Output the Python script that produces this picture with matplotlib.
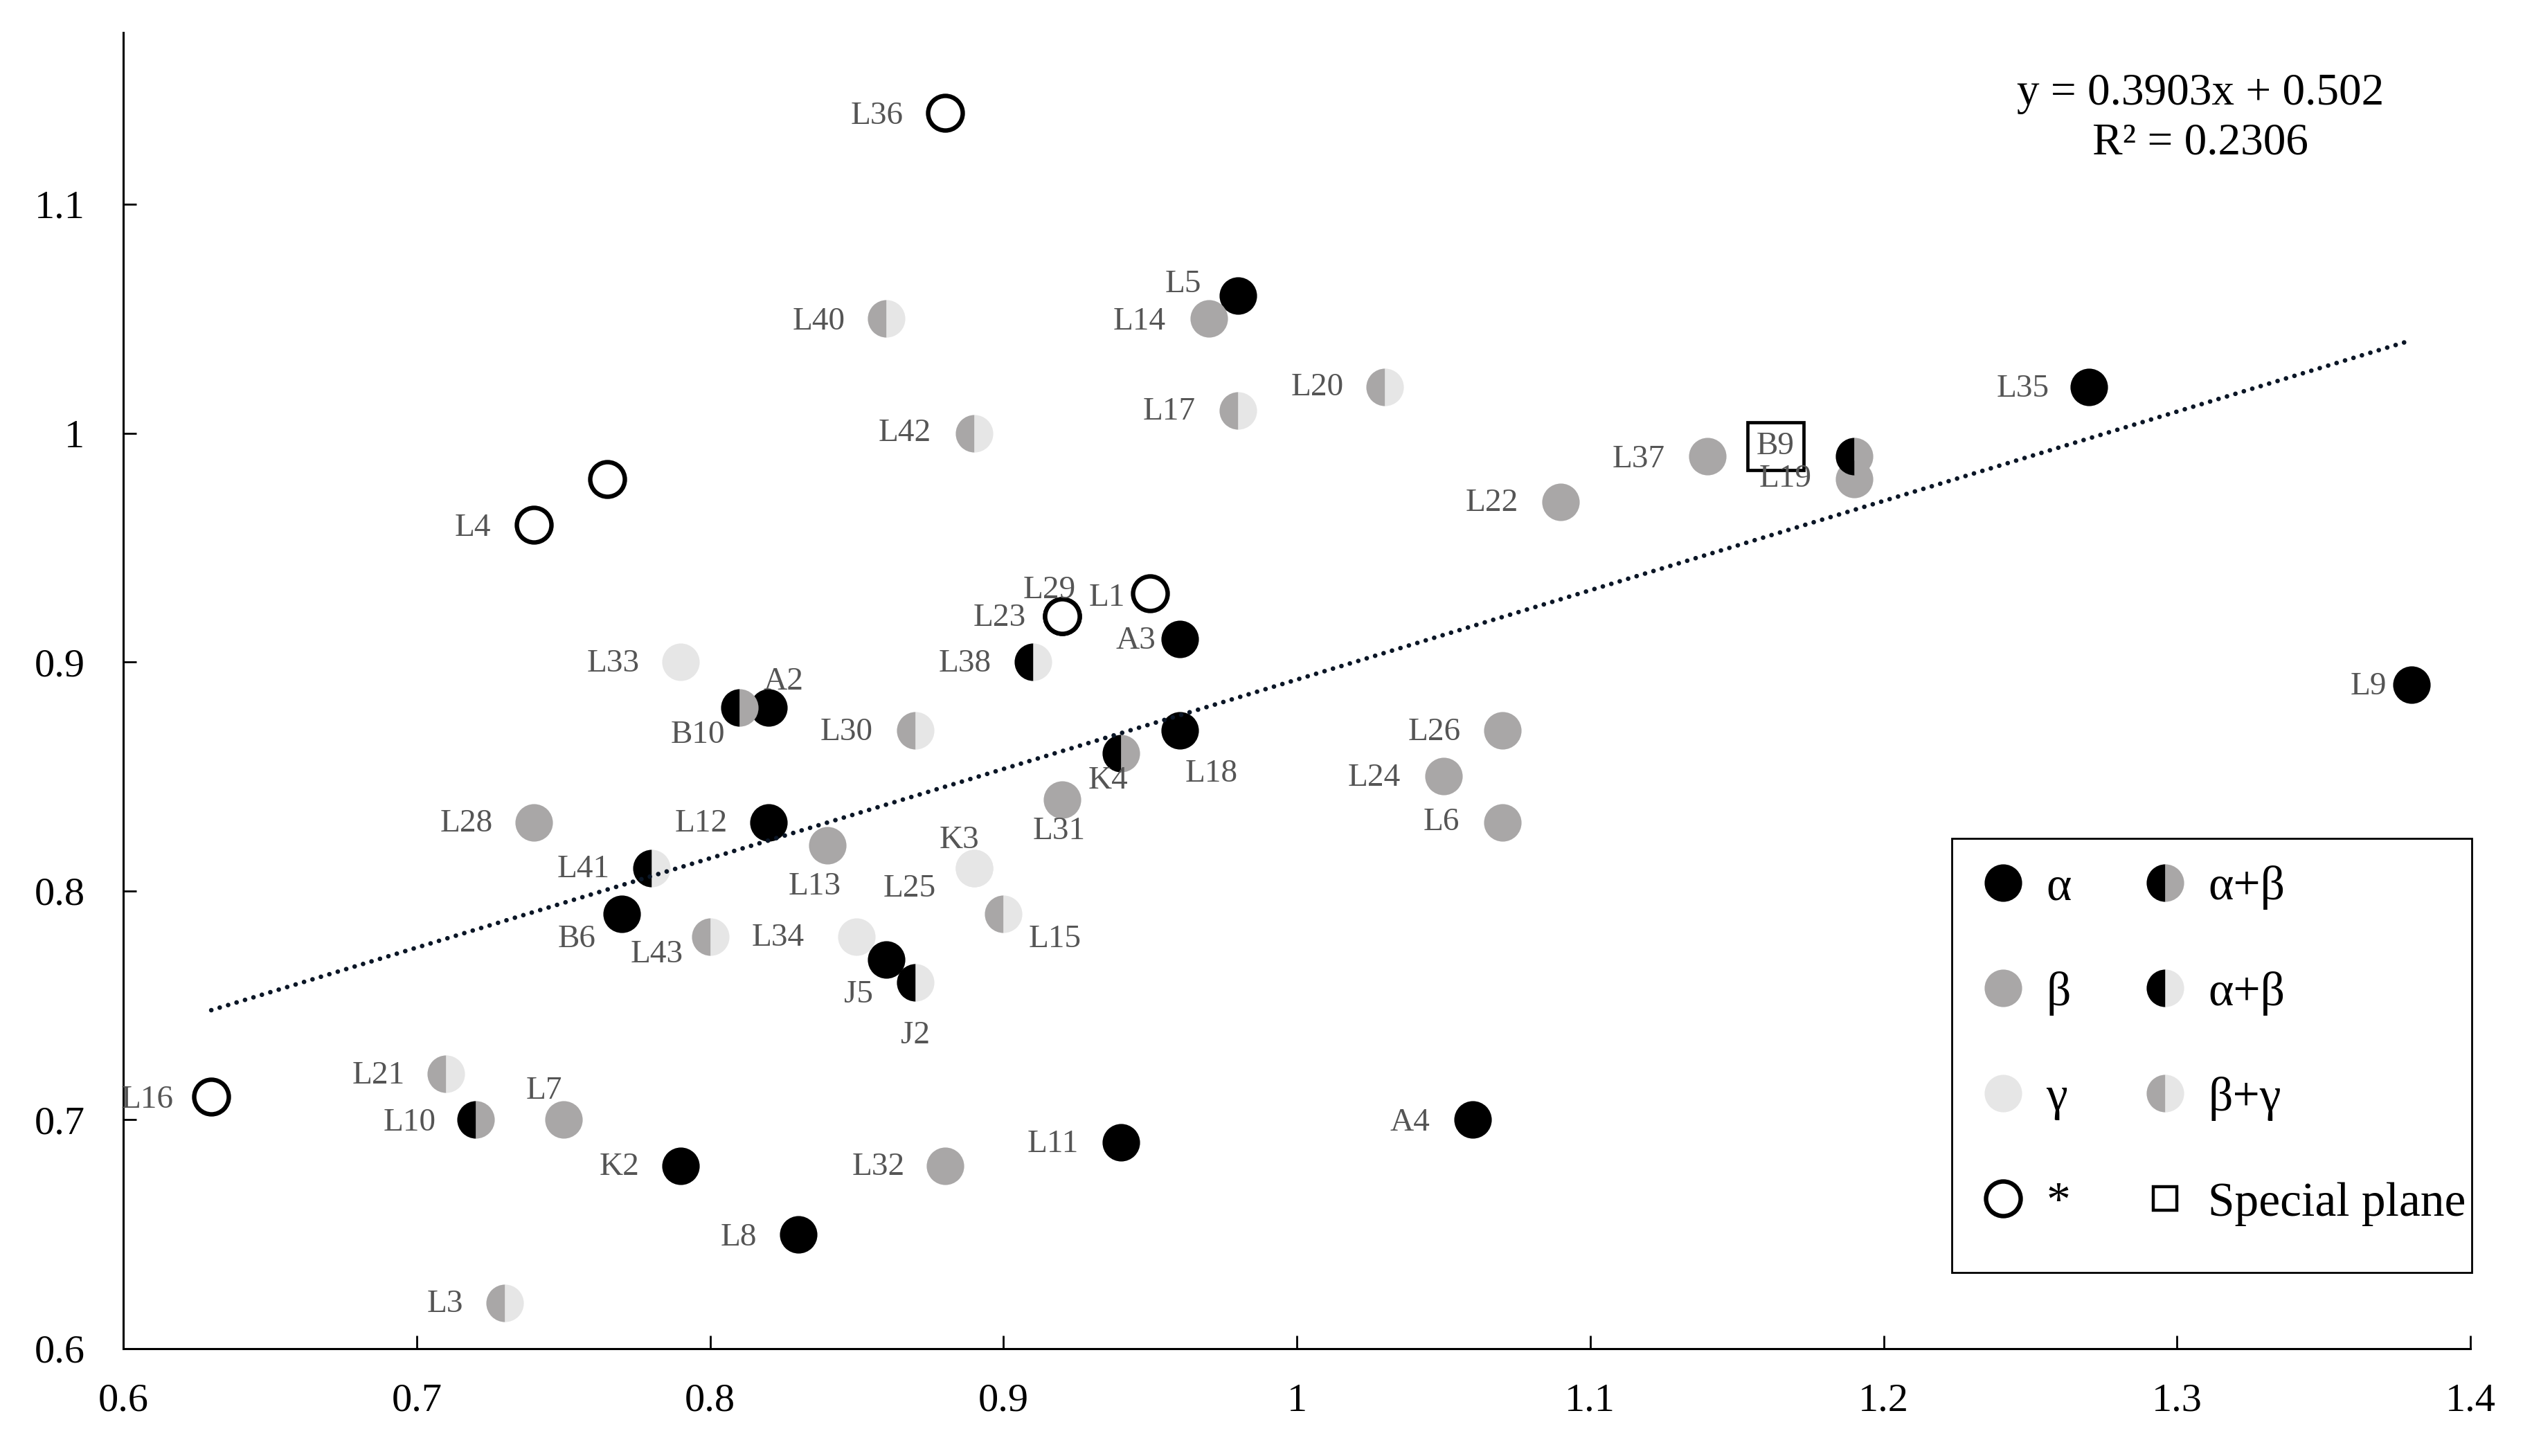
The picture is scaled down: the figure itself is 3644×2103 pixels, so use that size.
import matplotlib
matplotlib.use('Agg')
import matplotlib.pyplot as plt
from matplotlib.lines import Line2D
from matplotlib.patches import Rectangle
from matplotlib.ticker import FuncFormatter
import numpy as np

plt.rcParams['font.family'] = ['Liberation Serif', 'DejaVu Serif']

# data
names = ['L36', 'L5', 'L14', 'L40', 'L20', 'L17', 'L42', 'L35', 'L37', 'B9',
         'L19', 'L22', '', 'L4', 'L29', 'L23', 'L1', 'A3', 'L33', 'L38',
         'A2', 'B10', 'L30', 'L18', 'K4', 'L26', 'L24', 'L6', 'L9', 'L31',
         'L28', 'L12', 'L13', 'K3', 'L25', 'L41', 'L15', 'B6', 'L43', 'L34',
         'J5', 'J2', 'L21', 'L16', 'L10', 'L7', 'A4', 'L11', 'K2', 'L32',
         'L8', 'L3']
x_vals = [0.88, 0.98, 0.97, 0.86, 1.03, 0.98, 0.89, 1.27, 1.14, 1.19,
          1.19, 1.09, 0.765, 0.74, 0.92, 0.92, 0.95, 0.96, 0.79, 0.91,
          0.82, 0.81, 0.87, 0.96, 0.94, 1.07, 1.05, 1.07, 1.38, 0.92,
          0.74, 0.82, 0.84, 0.89, 0.89, 0.78, 0.90, 0.77, 0.80, 0.85,
          0.86, 0.87, 0.71, 0.63, 0.72, 0.75, 1.06, 0.94, 0.79, 0.88,
          0.83, 0.73]
y_vals = [1.14, 1.06, 1.05, 1.05, 1.02, 1.01, 1.00, 1.02, 0.99, 0.99,
          0.98, 0.97, 0.98, 0.96, 0.92, 0.92, 0.93, 0.91, 0.90, 0.90,
          0.88, 0.88, 0.87, 0.87, 0.86, 0.87, 0.85, 0.83, 0.89, 0.84,
          0.83, 0.83, 0.82, 0.81, 0.81, 0.81, 0.79, 0.79, 0.78, 0.78,
          0.77, 0.76, 0.72, 0.71, 0.70, 0.70, 0.70, 0.69, 0.68, 0.68,
          0.65, 0.62]
phases = ['*', 'a', 'b', 'bg', 'bg', 'bg', 'bg', 'a', 'b', 'ab',
          'b', 'b', '*', '*', '*', '*', '*', 'a', 'g', 'ag',
          'a', 'ab', 'bg', 'a', 'ab', 'b', 'b', 'b', 'a', 'b',
          'b', 'a', 'b', 'g', 'g', 'ag', 'bg', 'a', 'bg', 'g',
          'a', 'ag', 'bg', '*', 'ab', 'b', 'a', 'a', 'a', 'b',
          'a', 'bg']

slope, intercept, r2 = 0.3903, 0.502, 0.2306
special_plane = ['B9']

BLACK = 'black'
GRAY = '#a9a7a7'
LIGHT = '#e6e6e6'

# (fillstyle, face, alt face, label) for each phase
styles = {
    'a': ('full', BLACK, None, 'α'),
    'b': ('full', GRAY, None, 'β'),
    'g': ('full', LIGHT, None, 'γ'),
    '*': ('full', 'white', None, '*'),
    'ab': ('left', BLACK, GRAY, 'α+β'),
    'ag': ('left', BLACK, LIGHT, 'α+β'),
    'bg': ('left', GRAY, LIGHT, 'β+γ'),
}

# label offsets (reference pixels at 1568 width, dy down)
label_offsets = {
    'L36': (-42, 2), 'L5': (-34, -7), 'L14': (-43, 2), 'L40': (-42, 2),
    'L20': (-42, 0), 'L17': (-43, 1), 'L42': (-43, 0), 'L35': (-41, 1),
    'L37': (-43, 2), 'B9': (-49, -6), 'L19': (-43, 0), 'L22': (-43, 1),
    'L4': (-38, 2), 'L29': (-8, -16), 'L23': (-39, 1), 'L1': (-27, 3),
    'A3': (-27, 1), 'L33': (-42, 1), 'L38': (-42, 1), 'A2': (9, -16),
    'B10': (-26, 17), 'L30': (-43, 1), 'L18': (20, 27), 'K4': (-8, 17),
    'L26': (-42, 1), 'L24': (-43, 1), 'L6': (-38, 0), 'L9': (-27, 1),
    'L31': (-2, 20), 'L28': (-42, 1), 'L12': (-42, 1), 'L13': (-8, 26),
    'K3': (-9, -17), 'L25': (-40, 13), 'L41': (-42, 1), 'L15': (32, 16),
    'B6': (-28, 16), 'L43': (-33, 11), 'L34': (-49, 1), 'J5': (-17, 22),
    'J2': (0, 33), 'L21': (-42, 1), 'L16': (-40, 2), 'L10': (-41, 2),
    'L7': (-12, -18), 'A4': (-39, 2), 'L11': (-42, 1), 'K2': (-38, 1),
    'L32': (-41, 1), 'L8': (-37, 2), 'L3': (-37, 1),
}
PX = 0.8366  # one reference pixel in points

MS = 19.5


def marker_kw(phase):
    fs, c1, c2, _ = styles[phase]
    kw = dict(marker='o', markersize=MS, fillstyle=fs, markerfacecolor=c1)
    if c2 is not None:
        kw['markerfacecoloralt'] = c2
    if phase == '*':
        kw.update(markeredgecolor='black', markeredgewidth=2.3, markersize=MS - 1.5)
    else:
        kw.update(markeredgecolor='none', markeredgewidth=0)
    return kw


fig = plt.figure(figsize=(18.22, 10.515), dpi=200)
ax = fig.add_axes([178 / 3644, 1 - 1948 / 2103, 3390 / 3644, 1901 / 2103])

x_arr = np.array(x_vals)
y_arr = np.array(y_vals)
ph_arr = np.array(phases)
for ph in styles:
    m = ph_arr == ph
    ax.plot(x_arr[m], y_arr[m], linestyle='none', zorder=2, **marker_kw(ph))

# linear trend
xt = np.array([x_arr.min(), x_arr.max()])
ax.plot(xt, slope * xt + intercept, color='#0b1626', lw=2.4,
        linestyle=(0, (0.01, 1.9)), dash_capstyle='round', zorder=3)

for name, x, y in zip(names, x_vals, y_vals):
    if not name:
        continue
    dx, dy = label_offsets.get(name, (-42, 1))
    kw = {}
    if name in special_plane:
        kw['bbox'] = dict(boxstyle='square,pad=0.28', fc='white', ec='black', lw=1.7)
    ax.annotate(name, (x, y), xytext=(dx * PX, -dy * PX), textcoords='offset points',
                ha='center', va='center', fontsize=17, color='#555555', zorder=4, **kw)

ax.text(0.885, 0.9537, f'y = {slope}x + {intercept}', transform=ax.transAxes,
        ha='center', va='center', fontsize=23.5)
ax.text(0.885, 0.9158, f'R² = {r2}', transform=ax.transAxes,
        ha='center', va='center', fontsize=23.5)

ax.set_xlim(0.6, 1.4)
ax.set_ylim(0.6, 1.175)
ax.set_xticks(np.arange(6, 15) / 10)
ax.set_yticks(np.arange(6, 12) / 10)
fmt = FuncFormatter(lambda v, p: f'{round(v, 1):g}')
ax.xaxis.set_major_formatter(fmt)
ax.yaxis.set_major_formatter(fmt)
ax.tick_params(direction='in', length=6.8, width=1.0, labelsize=21, pad=18)
ax.tick_params(axis='y', pad=20)
for s in ['top', 'right']:
    ax.spines[s].set_visible(False)
for s in ['left', 'bottom']:
    ax.spines[s].set_linewidth(1.1)

handles = []
for ph in ['a', 'b', 'g', '*', 'ab', 'ag', 'bg']:
    handles.append(Line2D([], [], linestyle='none', label=styles[ph][3], **marker_kw(ph)))
handles.append(Line2D([], [], linestyle='none', marker='s', markersize=12,
                      markerfacecolor='white', markeredgecolor='black',
                      markeredgewidth=1.6, label='Special plane'))
leg = ax.legend(handles=handles, ncol=2, loc='upper left', bbox_to_anchor=(0.7926, 0.367),
                fontsize=25, frameon=False, borderpad=0,
                handlelength=0.8, handletextpad=0.5, columnspacing=1.55,
                labelspacing=1.27, borderaxespad=0)
# legend frame drawn as its own box
ax.add_patch(Rectangle((0.779, 0.0579), 0.2215, 0.3298, transform=ax.transAxes,
                       fill=False, ec='black', lw=1.0, clip_on=False, zorder=5))

fig.savefig('out.png', dpi=200, facecolor='white')
